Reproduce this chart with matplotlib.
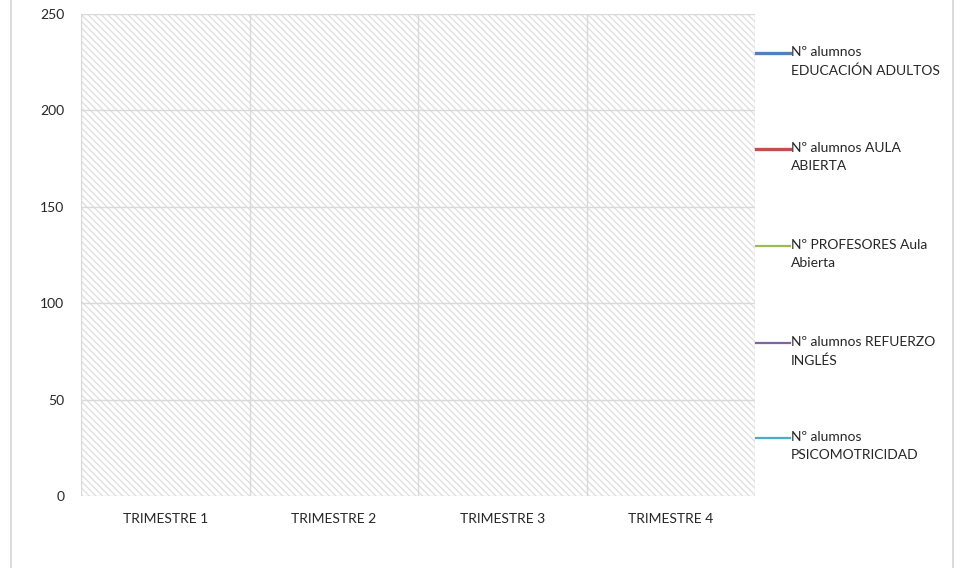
import numpy as np
import matplotlib
matplotlib.use("Agg")
import matplotlib.pyplot as plt
from matplotlib.lines import Line2D
from matplotlib.patches import Rectangle

# data (the series have no values in the source chart)
categories = ["TRIMESTRE 1", "TRIMESTRE 2", "TRIMESTRE 3", "TRIMESTRE 4"]
edu_adultos = [np.nan, np.nan, np.nan, np.nan]
aula_abierta = [np.nan, np.nan, np.nan, np.nan]
prof_aula = [np.nan, np.nan, np.nan, np.nan]
refuerzo_ingles = [np.nan, np.nan, np.nan, np.nan]
psicomotricidad = [np.nan, np.nan, np.nan, np.nan]
series_labels = ["Nº alumnos\nEDUCACIÓN ADULTOS", "Nº alumnos AULA\nABIERTA",
                 "Nº PROFESORES Aula\nAbierta", "Nº alumnos REFUERZO\nINGLÉS",
                 "Nº alumnos\nPSICOMOTRICIDAD"]
yticks = [0, 50, 100, 150, 200, 250]

colors = ["#4f81bd", "#c0504d", "#9bbb59", "#8064a2", "#4bacc6"]
widths = [2.4, 2.4, 1.6, 1.6, 1.6]

plt.rcParams['font.family'] = ['Lato', 'DejaVu Sans']
plt.rcParams['hatch.color'] = '#e0e0e0'
plt.rcParams['hatch.linewidth'] = 1.0

W, H = 966, 568
fig = plt.figure(figsize=(W / 100, H / 100), dpi=100)
fig.patch.set_facecolor('white')


def fx(px):
    return px / W


def fy(py):
    return 1 - py / H


# outer chart border
fig.patches.append(Rectangle((fx(11), fy(580)), fx(953) - fx(11), fy(-10) - fy(580),
                             transform=fig.transFigure, fill=False,
                             edgecolor='#d9d9d9', linewidth=1.3))

left, right, top, bottom = 81, 755, 14, 496
ax = fig.add_axes([fx(left), fy(bottom), fx(right) - fx(left), fy(top) - fy(bottom)])

x = np.arange(len(categories))
ax.set_xlim(-0.5, len(categories) - 0.5)
ax.set_ylim(0, 250)

# hatched plot area
ax.add_patch(Rectangle((0, 0), 1, 1, transform=ax.transAxes, facecolor='white',
                       hatch='\\\\\\\\\\', edgecolor='#e0e0e0', linewidth=0, zorder=0))

for y in yticks:
    ax.axhline(y, color='#d9d9d9', lw=1.0, zorder=1)
for b in np.arange(-0.5, len(categories), 1.0):
    ax.axvline(b, color='#d9d9d9', lw=1.0, zorder=1)

all_series = [edu_adultos, aula_abierta, prof_aula, refuerzo_ingles, psicomotricidad]
lines = []
for vals, c, lw in zip(all_series, colors, widths):
    ln, = ax.plot(x, vals, color=c, lw=lw, zorder=3)
    lines.append(ln)

fs = 10
for s in ax.spines.values():
    s.set_visible(False)
ax.set_xticks(x)
ax.set_xticklabels(categories, fontsize=fs, color='#262626')
ax.set_yticks(yticks)
ax.set_yticklabels([str(v) for v in yticks], fontsize=fs, color='#262626')
ax.tick_params(axis='both', length=0)
ax.tick_params(axis='x', pad=12)
ax.tick_params(axis='y', pad=12)

# legend, drawn by hand to match the layout
leg_y = [53, 149, 246, 343, 438]
for ln, lab, yy in zip(lines, series_labels, leg_y):
    fig.add_artist(Line2D([fx(756), fx(790)], [fy(yy), fy(yy)], transform=fig.transFigure,
                          color=ln.get_color(), lw=ln.get_linewidth()))
    fig.text(fx(791), fy(yy - 7), lab, fontsize=fs, color='#262626',
             ha='left', va='top', linespacing=1.6)

fig.savefig("out.png", dpi=100)
